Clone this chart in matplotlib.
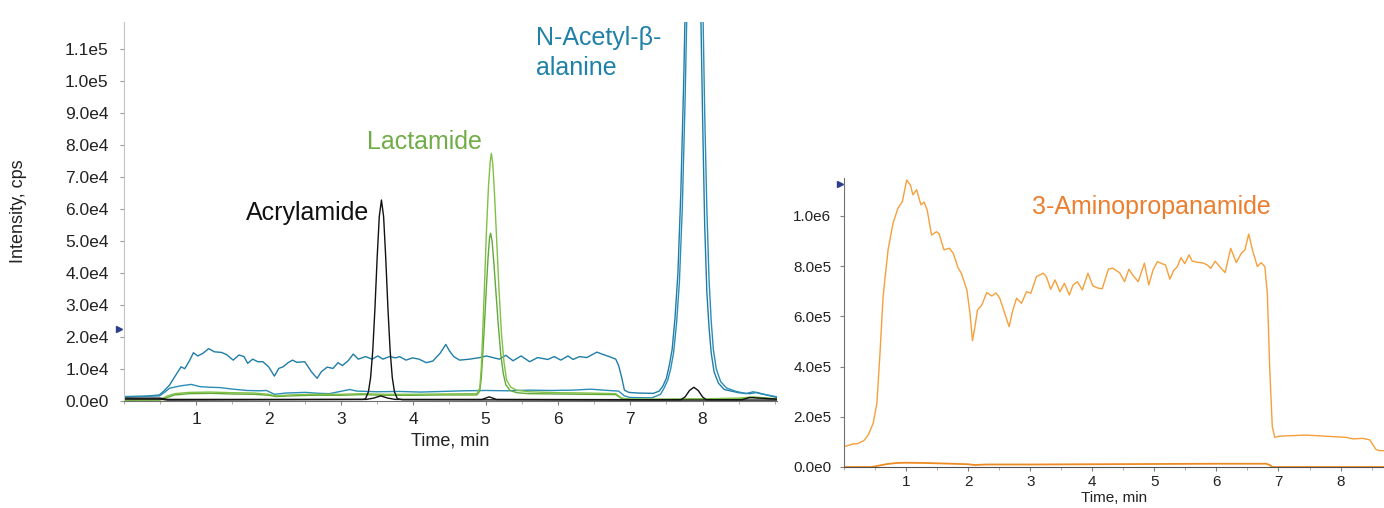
import numpy as np
import matplotlib
matplotlib.use("Agg")
import matplotlib.pyplot as plt
from matplotlib.ticker import FuncFormatter, MultipleLocator, FixedLocator

plt.rcParams['font.family'] = ['Liberation Sans', 'DejaVu Sans']

# ---------------- Left panel data (time in min, intensity in units of 1e4 cps) ----------------
blue_hi_t = [0.00, 0.30, 0.49, 0.56, 0.63, 0.71, 0.79, 0.84, 0.91, 0.96, 1.02, 1.09, 1.17, 1.25, 1.35,
             1.42, 1.51, 1.59, 1.66, 1.71, 1.78, 1.85, 1.92, 2.00, 2.08, 2.14, 2.20, 2.27, 2.33, 2.39,
             2.50, 2.59, 2.67, 2.73, 2.81, 2.89, 2.96, 3.02, 3.10, 3.17, 3.24, 3.34, 3.43, 3.51, 3.58,
             3.67, 3.76, 3.81, 3.90, 3.99, 4.08, 4.18, 4.27, 4.37, 4.45, 4.50, 4.56, 4.64, 4.78, 4.92,
             5.01, 5.10, 5.19, 5.28, 5.38, 5.49, 5.61, 5.72, 5.86, 5.95, 6.04, 6.14, 6.21, 6.30, 6.40,
             6.54, 6.62, 6.71, 6.80, 6.84, 6.88, 6.92, 6.98, 7.10, 7.32, 7.40, 7.45, 7.50, 7.54, 7.58,
             7.62, 7.66, 7.70, 7.74, 7.78, 7.82, 7.86, 7.875, 7.90, 7.94, 7.97, 8.00, 8.03, 8.06, 8.09,
             8.12, 8.16, 8.22, 8.30, 8.40, 8.50, 8.65, 8.75, 8.85, 9.03]
blue_hi_y = [0.13, 0.14, 0.18, 0.32, 0.49, 0.78, 1.06, 1.00, 1.27, 1.50, 1.40, 1.48, 1.63, 1.53, 1.51,
             1.44, 1.27, 1.43, 1.38, 1.17, 1.30, 1.22, 1.22, 1.06, 0.77, 1.01, 1.06, 1.19, 1.27, 1.20,
             1.22, 0.91, 0.70, 0.91, 1.05, 1.01, 1.19, 1.10, 1.25, 1.46, 1.30, 1.38, 1.30, 1.40, 1.30,
             1.38, 1.34, 1.38, 1.27, 1.34, 1.30, 1.19, 1.24, 1.48, 1.76, 1.56, 1.38, 1.27, 1.30, 1.35,
             1.40, 1.35, 1.30, 1.42, 1.25, 1.40, 1.22, 1.35, 1.29, 1.38, 1.27, 1.40, 1.29, 1.38, 1.35,
             1.52, 1.45, 1.38, 1.30, 1.10, 0.75, 0.33, 0.26, 0.24, 0.23, 0.30, 0.45, 0.70, 1.10, 1.60,
             2.60, 4.00, 6.50, 10.0, 14.5, 19.0, 21.5, 22.0, 21.0, 17.5, 13.0, 9.0, 5.5, 3.4, 2.3,
             1.5, 0.9, 0.55, 0.35, 0.30, 0.25, 0.22, 0.26, 0.20, 0.10]

blue_lo_t = [0.00, 0.49, 0.56, 0.63, 0.77, 0.93, 1.05, 1.19, 1.33, 1.51, 1.70, 1.88, 1.97, 2.08, 2.24,
             2.51, 2.70, 2.84, 3.12, 3.22, 3.50, 3.80, 4.10, 4.40, 4.70, 5.00, 5.30, 5.60, 5.90, 6.20,
             6.45, 6.70, 6.84, 6.92, 7.00, 7.30, 7.42, 7.47, 7.52, 7.56, 7.60, 7.64, 7.68, 7.72, 7.76,
             7.80, 7.84, 7.88, 7.90, 7.93, 7.97, 8.00, 8.03, 8.06, 8.09, 8.12, 8.15, 8.19, 8.25, 8.33,
             8.45, 8.60, 8.70, 8.80, 9.03]
blue_lo_y = [0.12, 0.15, 0.26, 0.39, 0.46, 0.51, 0.44, 0.42, 0.41, 0.36, 0.32, 0.31, 0.32, 0.20, 0.24,
             0.26, 0.23, 0.22, 0.35, 0.30, 0.28, 0.29, 0.27, 0.29, 0.31, 0.32, 0.31, 0.33, 0.32, 0.33,
             0.36, 0.32, 0.30, 0.15, 0.10, 0.09, 0.20, 0.40, 0.65, 1.00, 1.50, 2.40, 3.70, 6.00, 9.50,
             14.0, 18.5, 21.5, 22.0, 21.0, 17.0, 13.0, 9.0, 6.0, 3.8, 2.5, 1.6, 1.0, 0.60, 0.40,
             0.30, 0.22, 0.28, 0.22, 0.12]

green_a_t = [0.00, 0.50, 0.60, 0.70, 0.90, 1.20, 1.50, 1.80, 2.00, 2.10, 2.30, 2.60, 3.00, 3.30, 3.60,
             4.00, 4.40, 4.88, 4.92, 4.94, 4.96, 4.985, 5.01, 5.04, 5.065, 5.08, 5.10, 5.125, 5.15,
             5.185, 5.22, 5.255, 5.29, 5.35, 5.43, 5.60, 6.00, 6.40, 6.80, 6.88, 7.00, 7.50, 8.00,
             8.50, 8.70, 8.80, 9.03]
green_a_y = [0.02, 0.03, 0.15, 0.22, 0.26, 0.27, 0.25, 0.24, 0.20, 0.15, 0.18, 0.20, 0.20, 0.22, 0.20,
             0.20, 0.21, 0.22, 0.40, 1.00, 2.10, 3.60, 5.20, 6.70, 7.50, 7.74, 7.40, 6.40, 5.20,
             3.50, 2.10, 1.20, 0.65, 0.42, 0.33, 0.28, 0.25, 0.24, 0.22, 0.08, 0.05, 0.05, 0.06,
             0.08, 0.12, 0.10, 0.06]

green_b_t = [0.00, 0.50, 0.60, 0.70, 0.90, 1.20, 1.50, 1.80, 2.00, 2.10, 2.30, 2.60, 3.00, 3.30, 3.60,
             4.00, 4.40, 4.88, 4.92, 4.94, 4.96, 4.985, 5.01, 5.035, 5.055, 5.07, 5.09, 5.115, 5.14,
             5.175, 5.21, 5.245, 5.28, 5.34, 5.43, 5.60, 6.00, 6.40, 6.80, 6.88, 7.00, 7.50, 8.00,
             8.50, 8.70, 8.80, 9.03]
green_b_y = [0.01, 0.02, 0.10, 0.18, 0.22, 0.23, 0.21, 0.20, 0.17, 0.13, 0.15, 0.17, 0.17, 0.19, 0.17,
             0.17, 0.18, 0.18, 0.30, 0.70, 1.40, 2.40, 3.50, 4.50, 5.10, 5.24, 5.00, 4.30, 3.50,
             2.40, 1.45, 0.85, 0.50, 0.32, 0.25, 0.22, 0.21, 0.20, 0.19, 0.07, 0.04, 0.04, 0.05,
             0.06, 0.10, 0.08, 0.05]

black_a_t = [0.00, 0.50, 0.60, 3.30, 3.34, 3.38, 3.41, 3.44, 3.47, 3.50, 3.53, 3.56, 3.59, 3.62, 3.65,
             3.68, 3.71, 3.74, 3.78, 3.85, 7.00, 9.03]
black_a_y = [0.05, 0.05, 0.02, 0.04, 0.06, 0.28, 0.72, 1.57, 2.88, 4.44, 5.76, 6.28, 5.76, 4.44, 2.88,
             1.57, 0.72, 0.28, 0.06, 0.03, 0.02, 0.02]

black_b_t = [0.00, 0.50, 0.60, 3.35, 3.45, 3.55, 3.65, 3.75, 4.95, 5.05, 5.15, 7.70, 7.76, 7.82, 7.88,
             7.94, 8.00, 8.05, 8.55, 8.65, 8.80, 9.03]
black_b_y = [0.08, 0.08, 0.04, 0.04, 0.08, 0.15, 0.08, 0.04, 0.04, 0.12, 0.04, 0.03, 0.12, 0.32, 0.42,
             0.32, 0.12, 0.03, 0.03, 0.10, 0.08, 0.05]

left_yticks = [0, 1e4, 2e4, 3e4, 4e4, 5e4, 6e4, 7e4, 8e4, 9e4, 1e5, 1.1e5]
xticks = [1, 2, 3, 4, 5, 6, 7, 8]

# ---------------- Right panel data (time in min, intensity in units of 1e5 cps) ----------------
orange_t = [0.00, 0.15, 0.22, 0.32, 0.39, 0.47, 0.53, 0.58, 0.63, 0.71, 0.79, 0.87, 0.94, 1.01, 1.07,
            1.11, 1.17, 1.24, 1.29, 1.34, 1.41, 1.49, 1.53, 1.61, 1.70, 1.76, 1.84, 1.89, 1.98, 2.03,
            2.07, 2.11, 2.15, 2.22, 2.30, 2.38, 2.45, 2.51, 2.59, 2.66, 2.72, 2.78, 2.86, 2.94, 3.01,
            3.10, 3.21, 3.26, 3.33, 3.40, 3.48, 3.55, 3.63, 3.69, 3.76, 3.84, 3.93, 4.01, 4.10, 4.16,
            4.26, 4.33, 4.44, 4.52, 4.59, 4.65, 4.74, 4.84, 4.91, 4.98, 5.05, 5.12, 5.18, 5.25, 5.31,
            5.37, 5.43, 5.49, 5.56, 5.61, 5.70, 5.78, 5.85, 5.91, 5.98, 6.04, 6.14, 6.23, 6.32, 6.40,
            6.46, 6.52, 6.58, 6.66, 6.72, 6.78, 6.82, 6.86, 6.90, 6.94, 7.02, 7.45, 7.88, 8.09, 8.20,
            8.36, 8.47, 8.57, 8.63, 8.70]
orange_y = [0.81, 0.92, 0.93, 1.05, 1.27, 1.74, 2.54, 4.53, 6.79, 8.65, 9.71, 10.31, 10.57, 11.43, 11.23,
            10.84, 11.04, 10.44, 10.55, 10.24, 9.24, 9.37, 9.30, 8.65, 8.71, 8.51, 7.92, 7.72, 7.05, 6.12,
            5.03, 5.59, 6.25, 6.45, 6.95, 6.81, 6.93, 6.72, 6.12, 5.59, 6.25, 6.72, 6.52, 6.98, 6.92,
            7.58, 7.72, 7.58, 7.08, 7.45, 6.98, 7.32, 6.85, 7.25, 7.38, 7.05, 7.72, 7.21, 7.12, 7.10,
            7.88, 7.92, 7.74, 7.38, 7.88, 7.65, 7.38, 8.12, 7.25, 7.85, 8.18, 8.10, 8.05, 7.48, 7.82,
            7.98, 8.34, 8.10, 8.45, 8.20, 8.15, 8.13, 8.05, 7.91, 8.20, 8.02, 7.74, 8.71, 8.14, 8.51,
            8.65, 9.28, 8.65, 7.98, 8.14, 7.98, 6.92, 3.86, 1.61, 1.18, 1.23, 1.27, 1.21, 1.18, 1.12,
            1.14, 1.08, 0.70, 0.65, 0.65]

orange_lo_t = [0.00, 0.45, 0.55, 0.70, 0.85, 1.00, 1.30, 1.60, 2.00, 2.10, 2.30, 3.00, 4.00, 5.00,
               6.00, 6.80, 6.86, 6.90, 8.70]
orange_lo_y = [0.00, 0.00, 0.05, 0.12, 0.16, 0.17, 0.16, 0.14, 0.11, 0.08, 0.10, 0.10, 0.11, 0.12,
               0.13, 0.13, 0.08, 0.00, 0.00]

right_yticks = [0, 2e5, 4e5, 6e5, 8e5, 1e6]

# ---------------- Styling ----------------
BLUE = '#1F7DA7'
BLUE2 = '#2A8DB8'
GREEN_A = '#80C045'
GREEN_B = '#62A83A'
BLACK = '#111111'
ORANGE = '#F5A03C'
ORANGE_LO = '#EE8A22'
LABEL_BLUE = '#1F80A8'
LABEL_GREEN = '#71AD47'
LABEL_ORANGE = '#EC7E2E'
NAVY = '#2B3F8C'


def sci_fmt(v, pos):
    if v == 0:
        return '0.0e0'
    exp = int(np.floor(np.log10(abs(v)) + 1e-9))
    mant = v / 10 ** exp
    return f'{mant:.1f}e{exp}'


W, H = 1384, 508
fig = plt.figure(figsize=(W / 100, H / 100), dpi=100)

# Left axes
ax1 = fig.add_axes([124 / W, (H - 400.7) / H, 653 / W, 378.7 / H])
ax1.plot(blue_hi_t, np.array(blue_hi_y) * 1e4, color=BLUE, lw=1.0)
ax1.plot(blue_lo_t, np.array(blue_lo_y) * 1e4, color=BLUE2, lw=1.0)
ax1.plot(green_b_t, np.array(green_b_y) * 1e4, color=GREEN_B, lw=1.0)
ax1.plot(green_a_t, np.array(green_a_y) * 1e4, color=GREEN_A, lw=1.0)
ax1.plot(black_b_t, np.array(black_b_y) * 1e4, color=BLACK, lw=1.0)
ax1.plot(black_a_t, np.array(black_a_y) * 1e4, color=BLACK, lw=1.0)
ax1.set_xlim(0, 9.03)
ax1.set_ylim(0, 1.185e5)
ax1.yaxis.set_major_locator(FixedLocator(left_yticks))
ax1.yaxis.set_major_formatter(FuncFormatter(sci_fmt))
ax1.xaxis.set_major_locator(FixedLocator(xticks))
ax1.xaxis.set_minor_locator(MultipleLocator(0.5))
ax1.tick_params(axis='y', labelsize=12.5, length=3, width=0.8, color='#9A9A9A', pad=8, labelcolor='#222222')
ax1.tick_params(axis='x', which='major', labelsize=12.5, length=3, width=0.8, color='#808080', pad=5,
                labelcolor='#222222')
ax1.tick_params(axis='x', which='minor', length=2, width=0.6, color='#A0A0A0')
ax1.set_xlabel('Time, min', fontsize=13, color='#222222', labelpad=4)
ax1.set_ylabel('Intensity, cps', fontsize=13, color='#222222')
ax1.yaxis.set_label_coords(-0.148, 0.5)
for s in ['top', 'right']:
    ax1.spines[s].set_visible(False)
ax1.spines['left'].set_color('#C4C4C4')
ax1.spines['bottom'].set_color('#707070')
ax1.plot([-0.075], [2.24e4], marker='>', color=NAVY, markersize=5, clip_on=False, lw=0)

# Right axes
ax2 = fig.add_axes([844 / W, (H - 467) / H, 540 / W, 289 / H])
ax2.plot(orange_lo_t, np.array(orange_lo_y) * 1e5, color=ORANGE_LO, lw=1.3)
ax2.plot(orange_t, np.array(orange_y) * 1e5, color=ORANGE, lw=1.0)
ax2.set_xlim(0, 8.7)
ax2.set_ylim(0, 1.151e6)
ax2.yaxis.set_major_locator(FixedLocator(right_yticks))
ax2.yaxis.set_major_formatter(FuncFormatter(sci_fmt))
ax2.xaxis.set_major_locator(FixedLocator(xticks))
ax2.xaxis.set_minor_locator(MultipleLocator(0.5))
ax2.tick_params(axis='y', labelsize=11, length=3, width=0.8, color='#808080', pad=6, labelcolor='#222222')
ax2.tick_params(axis='x', which='major', labelsize=11, length=3, width=0.8, color='#808080', pad=3,
                labelcolor='#222222')
ax2.tick_params(axis='x', which='minor', length=2, width=0.6, color='#A0A0A0')
ax2.set_xlabel('Time, min', fontsize=11, color='#222222', labelpad=1)
for s in ['top', 'right']:
    ax2.spines[s].set_visible(False)
ax2.spines['left'].set_color('#707070')
ax2.spines['bottom'].set_color('#505050')
ax2.plot([-0.065], [1.127e6], marker='>', color=NAVY, markersize=5, clip_on=False, lw=0)

# Compound labels
fig.text(246 / W, 1 - 213 / H, 'Acrylamide', fontsize=18, color=BLACK, ha='left', va='center')
fig.text(367 / W, 1 - 142 / H, 'Lactamide', fontsize=18, color=LABEL_GREEN, ha='left', va='center')
fig.text(536 / W, 1 - 38 / H, 'N-Acetyl-β-', fontsize=18, color=LABEL_BLUE, ha='left', va='center')
fig.text(536 / W, 1 - 68 / H, 'alanine', fontsize=18, color=LABEL_BLUE, ha='left', va='center')
fig.text(1032 / W, 1 - 207 / H, '3-Aminopropanamide', fontsize=18, color=LABEL_ORANGE, ha='left', va='center')

fig.savefig('out.png', dpi=100)
